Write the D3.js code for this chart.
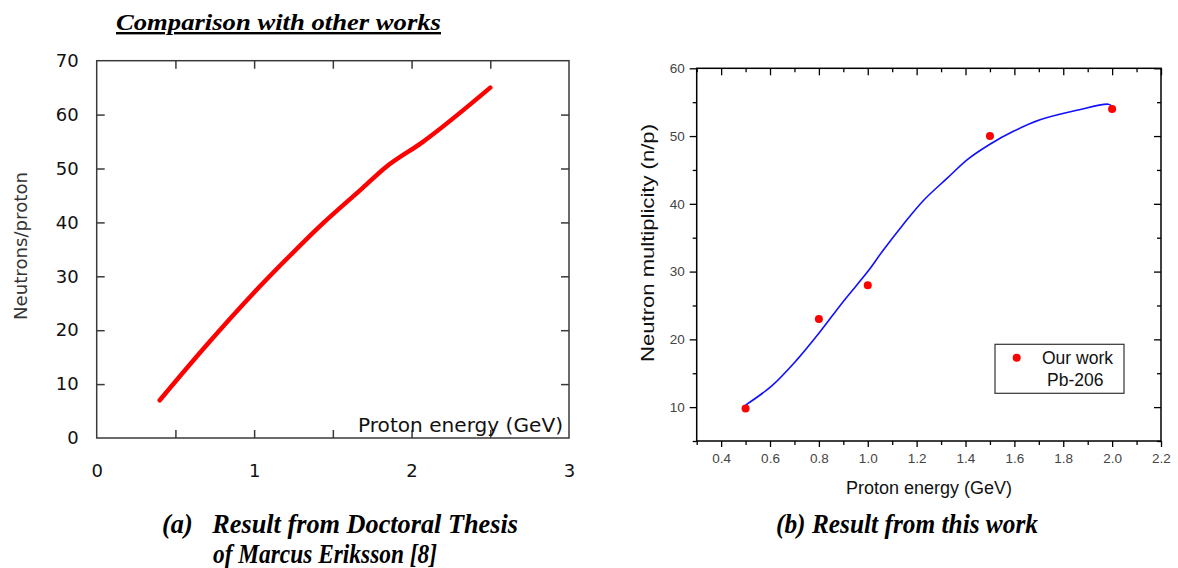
<!DOCTYPE html>
<html><head><meta charset="utf-8">
<script src="https://cdn.jsdelivr.net/npm/d3@7"></script>
<style>body{margin:0;background:#fff}svg{display:block}</style>
</head><body>
<svg id="c" width="1178" height="568"></svg>
<script>
// ---- Data: (a) Eriksson thesis curve ----
const erikssonEnergy = [0.4, 0.7, 1.0, 1.23, 1.44, 1.69, 1.83, 2.07, 2.5];
const erikssonNeutrons = [7, 17.3, 27, 33.9, 39.9, 46.4, 50.1, 54.9, 65];
const leftXTicks = [0, 1, 2, 3];
const leftXMinor = [0.5, 1, 1.5, 2, 2.5];
const leftYTicks = [0, 10, 20, 30, 40, 50, 60, 70];

// ---- Data: (b) this work ----
const ourEnergy = [0.5, 0.8, 1.0, 1.5, 2.0];
const ourMultiplicity = [9.8, 23, 28, 50, 54];
const fitEnergy = [0.5, 0.606, 0.708, 0.8, 0.9, 1.0, 1.064, 1.146, 1.228, 1.324, 1.41, 1.5, 1.596, 1.705, 1.856, 1.984, 2.0];
const fitMultiplicity = [10.3, 13.1, 16.9, 20.9, 25.6, 30.0, 33.2, 37.0, 40.5, 43.75, 46.6, 48.8, 50.7, 52.4, 53.8, 54.7, 54.4];
const rightXMajor = [0.4, 0.6, 0.8, 1.0, 1.2, 1.4, 1.6, 1.8, 2.0, 2.2];
const rightXMinor = [0.3, 0.5, 0.7, 0.9, 1.1, 1.3, 1.5, 1.7, 1.9, 2.1];
const rightYMajor = [10, 20, 30, 40, 50, 60];
const rightYMinor = [5, 15, 25, 35, 45, 55];

const svg = d3.select("#c");

// ---- Title ----
svg.append("text").attr("x", 116).attr("y", 30)
  .attr("font-family", "Liberation Serif").attr("font-weight", "bold").attr("font-style", "italic")
  .attr("font-size", 24).attr("text-decoration", "underline").attr("fill", "#000")
  .attr("textLength", 325).attr("lengthAdjust", "spacingAndGlyphs")
  .text("Comparison with other works");

// ================= Left chart =================
const xL = d3.scaleLinear().domain([0, 3]).range([96.7, 569]);
const yL = d3.scaleLinear().domain([0, 70]).range([438, 60.7]);
const gL = svg.append("g");
const frameCol = "#3a3a3a";

function noDomain(g){ g.select(".domain").remove(); }
gL.append("g").attr("transform", `translate(0,${yL(0)})`)
  .call(d3.axisBottom(xL).tickValues(leftXMinor).tickSize(-8).tickFormat(""))
  .call(noDomain).selectAll("line").attr("stroke", frameCol).attr("stroke-width", 1.5);
gL.append("g").attr("transform", `translate(0,${yL(70)})`)
  .call(d3.axisTop(xL).tickValues(leftXMinor).tickSize(-8).tickFormat(""))
  .call(noDomain).selectAll("line").attr("stroke", frameCol).attr("stroke-width", 1.5);
gL.append("g").attr("transform", `translate(${xL(0)},0)`)
  .call(d3.axisLeft(yL).tickValues(leftYTicks.slice(1, 7)).tickSize(-8).tickFormat(""))
  .call(noDomain).selectAll("line").attr("stroke", frameCol).attr("stroke-width", 1.5);
gL.append("g").attr("transform", `translate(${xL(3)},0)`)
  .call(d3.axisRight(yL).tickValues(leftYTicks.slice(1, 7)).tickSize(-8).tickFormat(""))
  .call(noDomain).selectAll("line").attr("stroke", frameCol).attr("stroke-width", 1.5);
gL.append("rect").attr("x", xL(0)).attr("y", yL(70))
  .attr("width", xL(3) - xL(0)).attr("height", yL(0) - yL(70))
  .attr("fill", "none").attr("stroke", frameCol).attr("stroke-width", 1.5);

const lx = gL.append("g").attr("transform", `translate(0,${yL(0)})`)
  .call(d3.axisBottom(xL).tickValues(leftXTicks).tickSize(0).tickPadding(26).tickFormat(d3.format("d")));
lx.call(noDomain);
lx.selectAll("text").attr("font-family", "DejaVu Sans").attr("font-size", 18).attr("fill", "#111");
const ly = gL.append("g").attr("transform", `translate(${xL(0)},0)`)
  .call(d3.axisLeft(yL).tickValues(leftYTicks).tickSize(0).tickPadding(18).tickFormat(d3.format("d")));
ly.call(noDomain);
ly.selectAll("text").attr("font-family", "DejaVu Sans").attr("font-size", 18).attr("fill", "#111");

gL.append("text").attr("transform", "translate(27,246) rotate(-90)").attr("text-anchor", "middle")
  .attr("font-family", "DejaVu Sans").attr("font-size", 17).attr("fill", "#333")
  .attr("textLength", 148).attr("lengthAdjust", "spacingAndGlyphs").text("Neutrons/proton");
gL.append("text").attr("x", 358).attr("y", 432)
  .attr("font-family", "DejaVu Sans").attr("font-size", 19).attr("fill", "#111")
  .attr("textLength", 205).attr("lengthAdjust", "spacingAndGlyphs").text("Proton energy (GeV)");

const lineL = d3.line().x((d, i) => xL(erikssonEnergy[i])).y(d => yL(d)).curve(d3.curveMonotoneX);
gL.append("path").attr("d", lineL(erikssonNeutrons)).attr("fill", "none")
  .attr("stroke", "#ff0000").attr("stroke-width", 4.5).attr("stroke-linecap", "round");

// ================= Right chart =================
const xR = d3.scaleLinear().domain([0.3, 2.2]).range([696.7, 1161]);
const yR = d3.scaleLinear().domain([5, 60]).range([441, 68.3]);
const gR = svg.append("g");
const axCol = "#000";
function styleTicks(g){ g.selectAll("line").attr("stroke", axCol).attr("stroke-width", 1.3); }

gR.append("g").attr("transform", `translate(0,${yR(5)})`)
  .call(d3.axisBottom(xR).tickValues(rightXMinor).tickSize(4).tickFormat("")).call(noDomain).call(styleTicks);
const bx = gR.append("g").attr("transform", `translate(0,${yR(5)})`)
  .call(d3.axisBottom(xR).tickValues(rightXMajor).tickSize(6).tickPadding(6).tickFormat(d3.format(".1f")));
bx.call(noDomain).call(styleTicks);
bx.selectAll("text").attr("font-family", "Liberation Sans").attr("font-size", 13.5).attr("fill", "#444");
gR.append("g").attr("transform", `translate(0,${yR(60)})`)
  .call(d3.axisTop(xR).tickValues(rightXMinor).tickSize(-4).tickFormat("")).call(noDomain).call(styleTicks);
gR.append("g").attr("transform", `translate(0,${yR(60)})`)
  .call(d3.axisTop(xR).tickValues(rightXMajor).tickSize(-7).tickFormat("")).call(noDomain).call(styleTicks);
gR.append("g").attr("transform", `translate(${xR(0.3)},0)`)
  .call(d3.axisLeft(yR).tickValues(rightYMinor).tickSize(4).tickFormat("")).call(noDomain).call(styleTicks);
const lyR = gR.append("g").attr("transform", `translate(${xR(0.3)},0)`)
  .call(d3.axisLeft(yR).tickValues(rightYMajor).tickSize(7).tickPadding(5).tickFormat(d3.format("d")));
lyR.call(noDomain).call(styleTicks);
lyR.selectAll("text").attr("font-family", "Liberation Sans").attr("font-size", 13.5).attr("fill", "#444");
gR.append("g").attr("transform", `translate(${xR(2.2)},0)`)
  .call(d3.axisRight(yR).tickValues(rightYMinor).tickSize(-4).tickFormat("")).call(noDomain).call(styleTicks);
gR.append("g").attr("transform", `translate(${xR(2.2)},0)`)
  .call(d3.axisRight(yR).tickValues(rightYMajor).tickSize(-7).tickFormat("")).call(noDomain).call(styleTicks);

gR.append("rect").attr("x", xR(0.3)).attr("y", yR(60))
  .attr("width", xR(2.2) - xR(0.3)).attr("height", yR(5) - yR(60))
  .attr("fill", "none").attr("stroke", axCol).attr("stroke-width", 1.5);

gR.append("text").attr("x", 929).attr("y", 494).attr("text-anchor", "middle")
  .attr("font-family", "Liberation Sans").attr("font-size", 18).attr("fill", "#111").text("Proton energy (GeV)");
gR.append("text").attr("transform", "translate(654,243) rotate(-90)").attr("text-anchor", "middle")
  .attr("font-family", "Liberation Sans").attr("font-size", 19).attr("fill", "#111")
  .attr("textLength", 238).attr("lengthAdjust", "spacingAndGlyphs").text("Neutron multiplicity (n/p)");

const lineR = d3.line().x((d, i) => xR(fitEnergy[i])).y(d => yR(d)).curve(d3.curveCatmullRom);
gR.append("path").attr("d", lineR(fitMultiplicity)).attr("fill", "none")
  .attr("stroke", "#1010ff").attr("stroke-width", 1.6);

gR.selectAll("circle.pt").data(ourMultiplicity).join("circle").attr("class", "pt")
  .attr("cx", (d, i) => xR(ourEnergy[i])).attr("cy", d => yR(d)).attr("r", 4).attr("fill", "#ff0000");

const lg = gR.append("g");
lg.append("rect").attr("x", 995).attr("y", 344.3).attr("width", 129).attr("height", 49)
  .attr("fill", "#fff").attr("stroke", "#333").attr("stroke-width", 1.2);
lg.append("circle").attr("cx", 1016.7).attr("cy", 357.7).attr("r", 4).attr("fill", "#ff0000");
lg.append("text").attr("x", 1042).attr("y", 364).attr("font-family", "Liberation Sans")
  .attr("font-size", 17.5).attr("fill", "#111").text("Our work");
lg.append("text").attr("x", 1047).attr("y", 386).attr("font-family", "Liberation Sans")
  .attr("font-size", 17.5).attr("fill", "#111").text("Pb-206");

// ---- Captions ----
function caption(x, y, txt, len){
  svg.append("text").attr("x", x).attr("y", y)
    .attr("font-family", "Liberation Serif").attr("font-weight", "bold").attr("font-style", "italic")
    .attr("font-size", 27).attr("fill", "#000")
    .attr("textLength", len).attr("lengthAdjust", "spacingAndGlyphs")
    .attr("xml:space", "preserve").style("white-space", "pre").text(txt);
}
caption(162, 533, "(a)   Result from Doctoral Thesis", 356);
caption(213, 563, "of Marcus Eriksson [8]", 224);
caption(776, 533, "(b) Result from this work", 262);
</script>
</body></html>
